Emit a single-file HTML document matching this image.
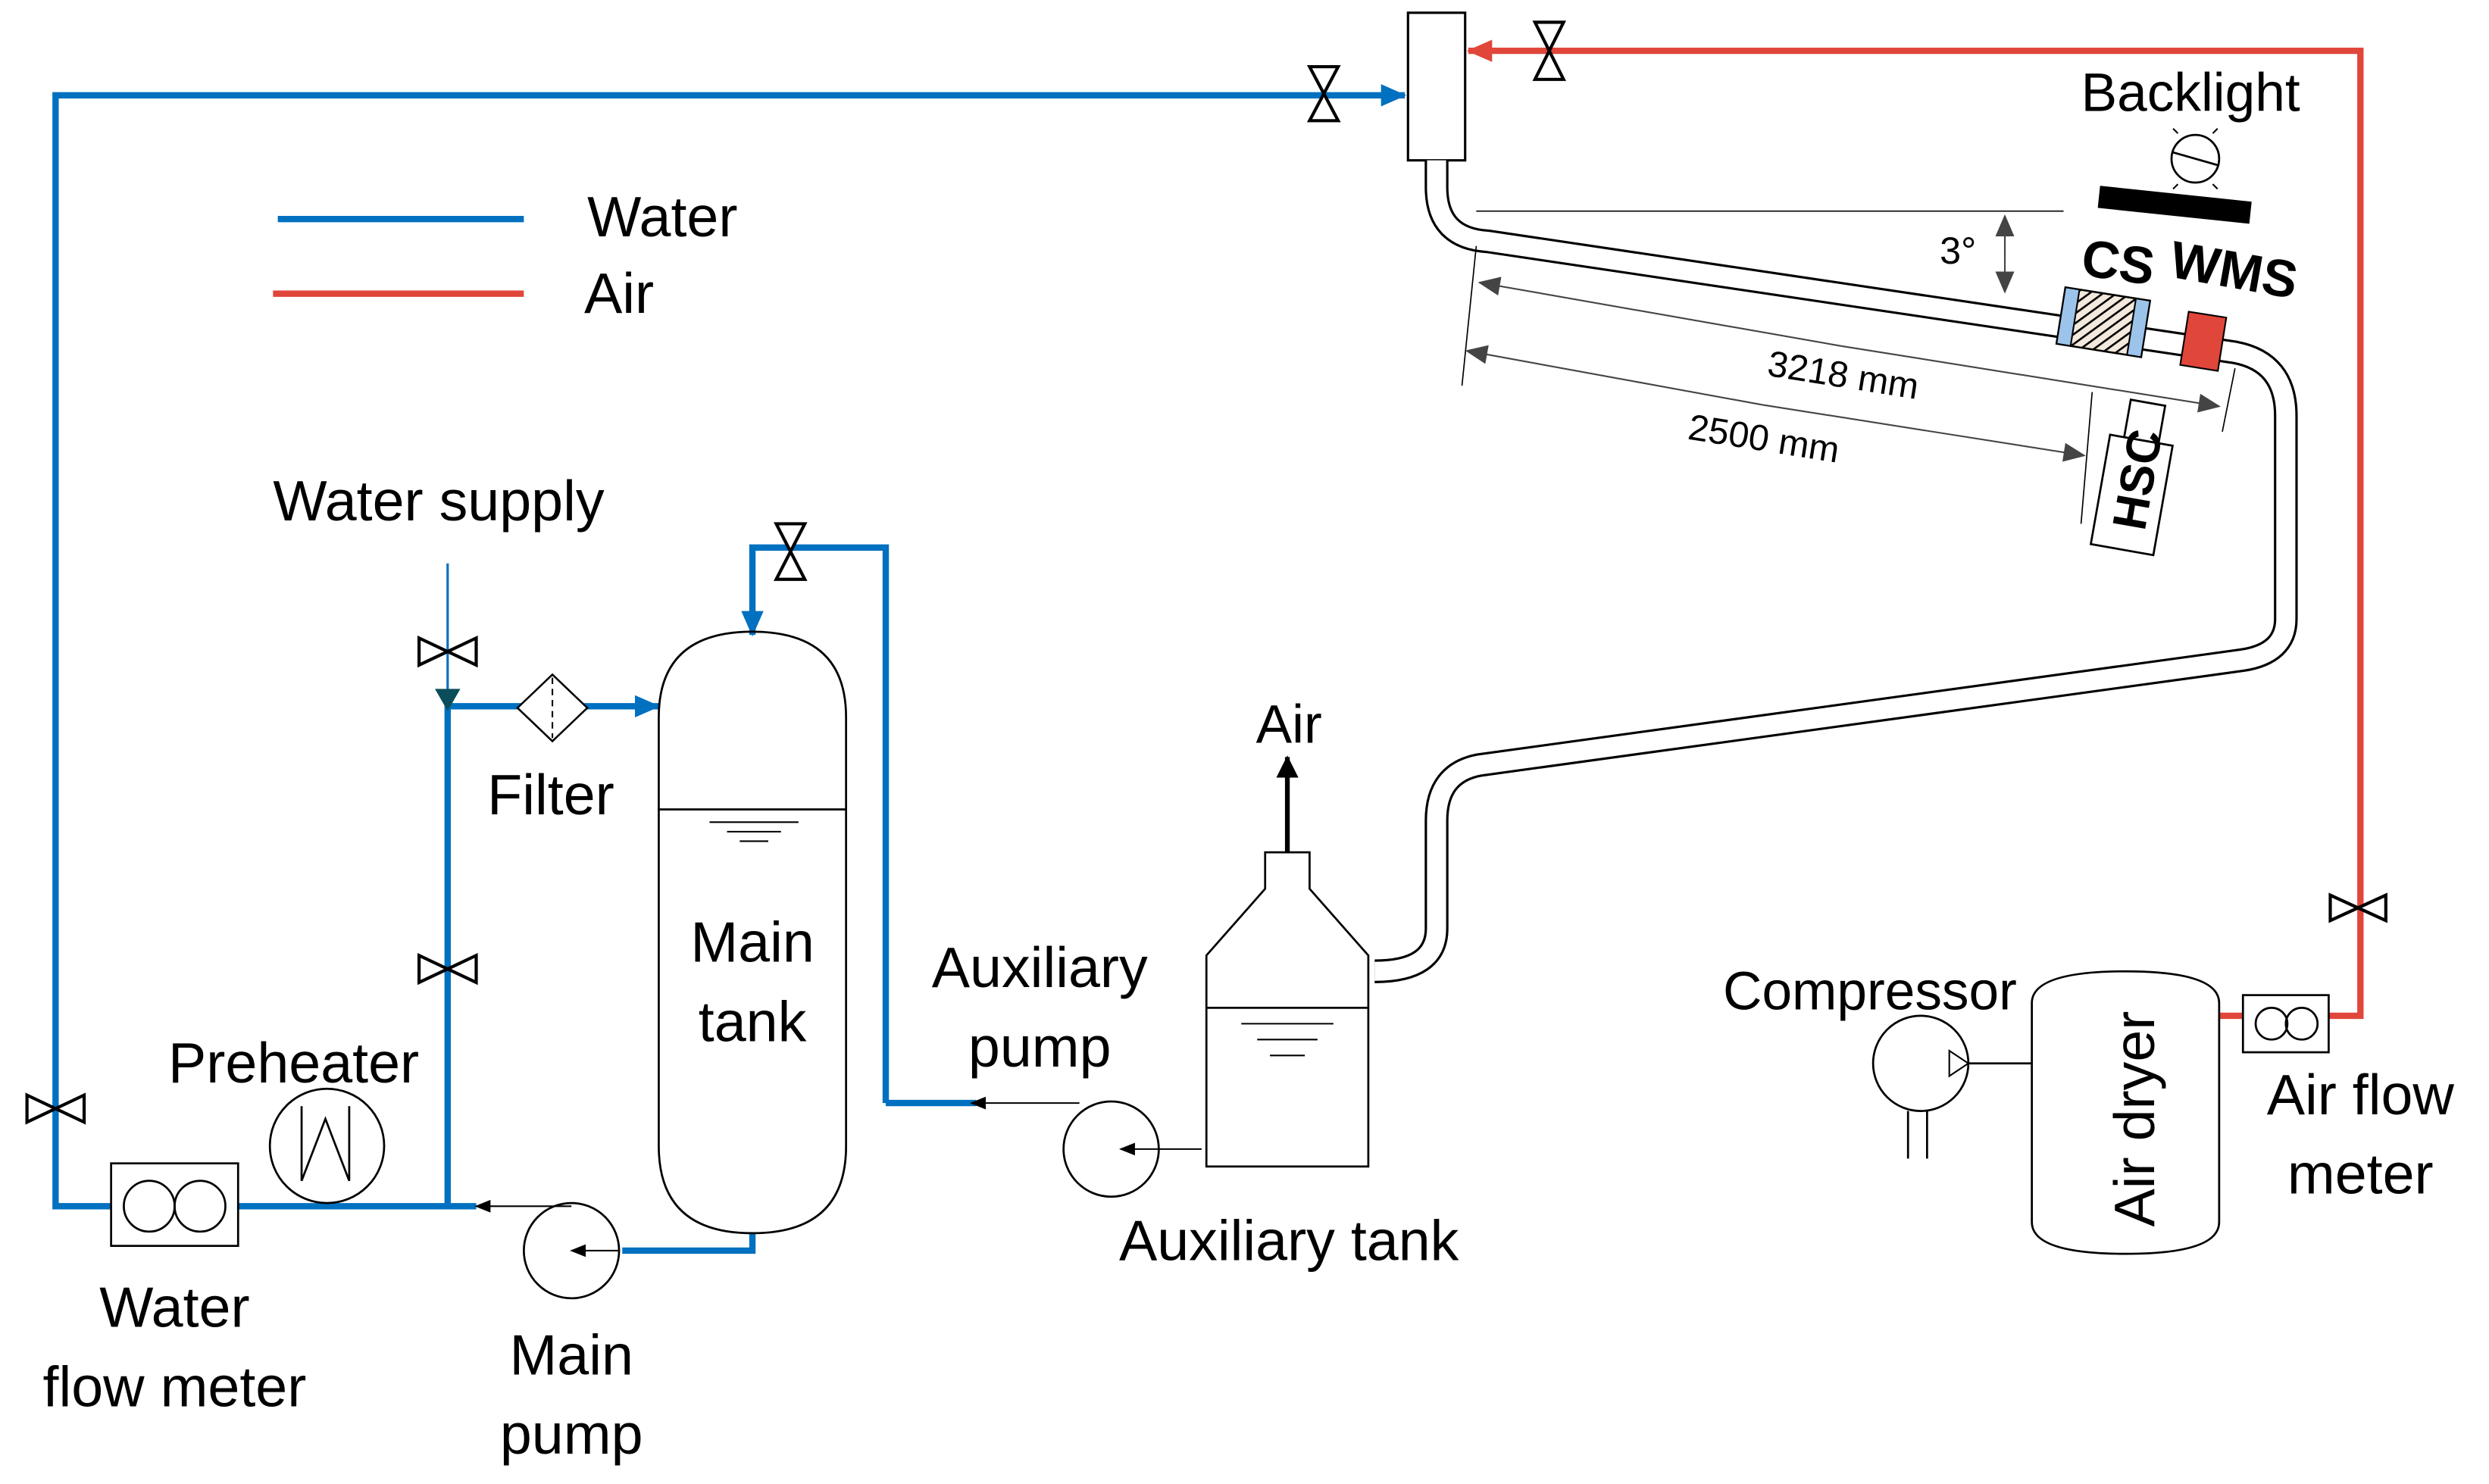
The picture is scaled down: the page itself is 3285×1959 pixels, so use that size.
<!DOCTYPE html>
<html><head><meta charset="utf-8"><style>
html,body{margin:0;padding:0;background:#fff;}
svg{display:block;}
text{font-family:"Liberation Sans",sans-serif;fill:#000;}
</style></head><body>
<svg width="3285" height="1959" viewBox="0 0 1568 935" xmlns="http://www.w3.org/2000/svg">
<defs>
<marker id="abl" markerWidth="16" markerHeight="14" refX="15" refY="7" orient="auto" markerUnits="userSpaceOnUse"><path d="M0,0 L16,7 L0,14 z" fill="#0070c0"/></marker>
<marker id="ar" markerWidth="16" markerHeight="14" refX="15" refY="7" orient="auto" markerUnits="userSpaceOnUse"><path d="M0,0 L16,7 L0,14 z" fill="#e0463a"/></marker>
<marker id="ak" markerWidth="10" markerHeight="8" refX="9" refY="4" orient="auto" markerUnits="userSpaceOnUse"><path d="M0,0 L10,4 L0,8 z" fill="#000"/></marker>
<marker id="akb" markerWidth="14" markerHeight="14" refX="13" refY="7" orient="auto" markerUnits="userSpaceOnUse"><path d="M0,0 L14,7 L0,14 z" fill="#000"/></marker>
<marker id="ag" markerWidth="14" markerHeight="12" refX="13" refY="6" orient="auto" markerUnits="userSpaceOnUse"><path d="M0,0 L14,6 L0,12 z" fill="#444"/></marker>
<pattern id="hatch" width="5" height="5" patternUnits="userSpaceOnUse" patternTransform="rotate(45)"><rect width="5" height="5" fill="#f3e9dc"/><line x1="0" y1="0" x2="0" y2="5" stroke="#000" stroke-width="2.5"/></pattern>
</defs>

<line x1="175" y1="138" x2="330" y2="138" stroke="#0070c0" stroke-width="4"/>
<line x1="172" y1="185" x2="330" y2="185" stroke="#e0463a" stroke-width="4"/>
<text x="370" y="149" font-size="36">Water</text>
<text x="368" y="197" font-size="36">Air</text>

<g fill="none" stroke="#0070c0" stroke-width="4">
<path d="M300,760 L35,760 L35,60 L885,60" marker-end="url(#abl)"/>
<path d="M282,760 L282,445 L415,445" marker-end="url(#abl)"/>
<path d="M558,695 L558,345 L474,345 L474,400" marker-end="url(#abl)"/>
<line x1="558" y1="695" x2="615" y2="695"/>
<path d="M474,777 L474,788 L392,788"/>
</g>
<line x1="282" y1="355" x2="282" y2="445" stroke="#0070c0" stroke-width="1.5"/>
<path d="M274,434 L290,434 L282,448 z" fill="#0b4d5a"/>

<g fill="none" stroke="#e0463a" stroke-width="4">
<path d="M1467,640 L1487,640 L1487,32 L925,32" marker-end="url(#ar)"/>
<line x1="1398" y1="640" x2="1413" y2="640"/>
</g>

<g fill="#fff" stroke="#000" stroke-width="2">
<path d="M825,42 L843,42 L825,76 L843,76 z"/>
<path d="M967,14 L985,14 L967,50 L985,50 z"/>
<path d="M489,330 L507,330 L489,365 L507,365 z"/>
<path d="M17,690 L17,707 L53,690 L53,707 z"/>
<path d="M264,402 L264,419 L300,402 L300,419 z"/>
<path d="M264,602 L264,619 L300,602 L300,619 z"/>
<path d="M1468,564 L1468,580 L1503,564 L1503,580 z"/>
</g>

<path d="M348,425 L370,446 L348,467 L326,446 z" fill="#fff" stroke="#000" stroke-width="1.2"/>
<line x1="348" y1="427" x2="348" y2="465" stroke="#000" stroke-width="1" stroke-dasharray="4,3"/>

<rect x="887" y="8" width="36" height="93" fill="#fff" stroke="#000" stroke-width="1.5"/>

<path d="M905,101 L905,118 Q905,150 937,152 L1408,222 Q1440,228 1440,262 L1440,390 Q1440,412 1412,416 L932,482 Q905,487 905,517 L905,585 Q905,612 866,612" fill="none" stroke="#000" stroke-width="15"/>
<path d="M905,101 L905,118 Q905,150 937,152 L1408,222 Q1440,228 1440,262 L1440,390 Q1440,412 1412,416 L932,482 Q905,487 905,517 L905,585 Q905,612 866,612" fill="none" stroke="#fff" stroke-width="12"/>

<line x1="930" y1="133" x2="1300" y2="133" stroke="#000" stroke-width="0.8"/>
<line x1="1263" y1="137" x2="1263" y2="184" stroke="#444" stroke-width="1" marker-end="url(#ag)"/>
<line x1="1263" y1="160" x2="1263" y2="136" stroke="#444" stroke-width="1" marker-end="url(#ag)"/>
<text x="1222" y="166" font-size="24">3°</text>

<g stroke="#000" stroke-width="0.8">
<line x1="930" y1="155" x2="921" y2="243"/>
<line x1="1408" y1="232" x2="1400" y2="272"/>
<line x1="1318" y1="247" x2="1311" y2="330"/>
</g>
<line x1="1160" y1="218" x2="932" y2="178" stroke="#444" stroke-width="1" marker-end="url(#ag)"/>
<line x1="1160" y1="218" x2="1398" y2="256" stroke="#444" stroke-width="1" marker-end="url(#ag)"/>
<line x1="1110" y1="255" x2="924" y2="221" stroke="#444" stroke-width="1" marker-end="url(#ag)"/>
<line x1="1110" y1="255" x2="1313" y2="287" stroke="#444" stroke-width="1" marker-end="url(#ag)"/>
<text x="1160" y="244" font-size="23" text-anchor="middle" transform="rotate(9 1160 244)">3218 mm</text>
<text x="1110" y="284" font-size="23" text-anchor="middle" transform="rotate(9 1110 284)">2500 mm</text>

<g transform="rotate(9 1325 203)">
<rect x="1298" y="185" width="54" height="36" fill="url(#hatch)" stroke="#000" stroke-width="1.2"/>
<rect x="1298" y="185" width="9" height="36" fill="#9cc3ea" stroke="#000" stroke-width="1"/>
<rect x="1343" y="185" width="9" height="36" fill="#9cc3ea" stroke="#000" stroke-width="1"/>
</g>
<rect x="1376" y="198" width="24" height="34" fill="#e0463a" stroke="#000" stroke-width="1" transform="rotate(9 1388 215)"/>
<text x="1310" y="176" font-size="33" font-weight="bold" transform="rotate(8 1330 176)">CS</text>
<text x="1365" y="182" font-size="33" font-weight="bold" transform="rotate(10 1410 182)">WMS</text>

<rect x="1322" y="122" width="96" height="14" fill="#000" transform="rotate(6 1370 129)"/>
<circle cx="1383" cy="100" r="15" fill="#fff" stroke="#000" stroke-width="1.3"/>
<line x1="1369" y1="96" x2="1397" y2="104" stroke="#000" stroke-width="1.3"/>
<g stroke="#000" stroke-width="1"><line x1="1372" y1="84" x2="1369" y2="81"/><line x1="1394" y1="84" x2="1397" y2="81"/><line x1="1372" y1="116" x2="1369" y2="119"/><line x1="1394" y1="116" x2="1397" y2="119"/></g>
<text x="1380" y="70" font-size="34" text-anchor="middle">Backlight</text>

<g transform="rotate(10 1345 300)">
<rect x="1334" y="253" width="22" height="24" fill="#fff" stroke="#000" stroke-width="1.3"/>
<rect x="1325" y="277" width="40" height="70" fill="#fff" stroke="#000" stroke-width="1.3"/>
</g>
<text x="1355" y="322" font-size="30" font-weight="bold" text-anchor="middle" transform="rotate(-80 1345 312)">HSC</text>

<path d="M415,452 Q415,398 474,398 Q533,398 533,452 L533,722 Q533,777 474,777 Q415,777 415,722 Z" fill="none" stroke="#000" stroke-width="1.3"/>
<line x1="415" y1="510" x2="533" y2="510" stroke="#000" stroke-width="1.3"/>
<line x1="447" y1="518" x2="503" y2="518" stroke="#000" stroke-width="1"/>
<line x1="458" y1="524" x2="492" y2="524" stroke="#000" stroke-width="1"/>
<line x1="466" y1="530" x2="484" y2="530" stroke="#000" stroke-width="1"/>
<text x="474" y="606" font-size="36" text-anchor="middle">Main</text>
<text x="474" y="656" font-size="36" text-anchor="middle">tank</text>

<circle cx="360" cy="788" r="30" fill="#fff" stroke="#000" stroke-width="1.3"/>
<line x1="390" y1="788" x2="360" y2="788" stroke="#000" stroke-width="1" marker-end="url(#ak)"/>
<line x1="360" y1="760" x2="300" y2="760" stroke="#000" stroke-width="1" marker-end="url(#ak)"/>

<rect x="70" y="733" width="80" height="52" fill="#fff" stroke="#000" stroke-width="1.3"/>
<circle cx="94" cy="760" r="16" fill="none" stroke="#000" stroke-width="1.3"/>
<circle cx="126" cy="760" r="16" fill="none" stroke="#000" stroke-width="1.3"/>

<circle cx="206" cy="722" r="36" fill="#fff" stroke="#000" stroke-width="1.3"/>
<path d="M190,697 L190,744 L205,705 L220,744 L220,697" fill="none" stroke="#000" stroke-width="1.3"/>

<path d="M760,735 L760,602 L797,560 L797,537 L825,537 L825,560 L862,602 L862,735 Z" fill="#fff" stroke="#000" stroke-width="1.3"/>
<line x1="760" y1="635" x2="862" y2="635" stroke="#000" stroke-width="1.3"/>
<line x1="782" y1="645" x2="840" y2="645" stroke="#000" stroke-width="1"/>
<line x1="792" y1="655" x2="830" y2="655" stroke="#000" stroke-width="1"/>
<line x1="800" y1="665" x2="822" y2="665" stroke="#000" stroke-width="1"/>
<line x1="811" y1="537" x2="811" y2="477" stroke="#000" stroke-width="3" marker-end="url(#akb)"/>
<text x="812" y="468" font-size="34" text-anchor="middle">Air</text>

<circle cx="700" cy="724" r="30" fill="#fff" stroke="#000" stroke-width="1.3"/>
<line x1="757" y1="724" x2="706" y2="724" stroke="#000" stroke-width="1" marker-end="url(#ak)"/>
<line x1="680" y1="695" x2="612" y2="695" stroke="#000" stroke-width="1" marker-end="url(#ak)"/>

<circle cx="1210" cy="670" r="30" fill="#fff" stroke="#000" stroke-width="1.3"/>
<path d="M1228,662 L1240,670 L1228,678 z" fill="#fff" stroke="#000" stroke-width="1"/>
<line x1="1240" y1="670" x2="1280" y2="670" stroke="#000" stroke-width="1.3"/>
<line x1="1202" y1="700" x2="1202" y2="730" stroke="#000" stroke-width="1.3"/>
<line x1="1214" y1="700" x2="1214" y2="730" stroke="#000" stroke-width="1.3"/>

<path d="M1280,632 Q1280,612 1339,612 Q1398,612 1398,632 L1398,770 Q1398,790 1339,790 Q1280,790 1280,770 Z" fill="#fff" stroke="#000" stroke-width="1.3"/>
<text x="1345" y="705" font-size="36" text-anchor="middle" transform="rotate(-90 1345 705) translate(0 12)">Air dryer</text>

<rect x="1413" y="627" width="54" height="36" fill="#fff" stroke="#000" stroke-width="1.3"/>
<circle cx="1431" cy="645" r="10" fill="none" stroke="#000" stroke-width="1.3"/>
<circle cx="1450" cy="645" r="10" fill="none" stroke="#000" stroke-width="1.3"/>

<text x="172" y="328" font-size="36">Water supply</text>
<text x="307" y="513" font-size="36">Filter</text>
<text x="185" y="682" font-size="36" text-anchor="middle">Preheater</text>
<text x="110" y="836" font-size="36" text-anchor="middle">Water</text>
<text x="110" y="886" font-size="36" text-anchor="middle">flow meter</text>
<text x="360" y="866" font-size="36" text-anchor="middle">Main</text>
<text x="360" y="916" font-size="36" text-anchor="middle">pump</text>
<text x="655" y="622" font-size="36" text-anchor="middle">Auxiliary</text>
<text x="655" y="672" font-size="36" text-anchor="middle">pump</text>
<text x="812" y="794" font-size="36" text-anchor="middle">Auxiliary tank</text>
<text x="1178" y="636" font-size="34" text-anchor="middle">Compressor</text>
<text x="1487" y="702" font-size="36" text-anchor="middle">Air flow</text>
<text x="1487" y="752" font-size="36" text-anchor="middle">meter</text>
</svg>
</body></html>
